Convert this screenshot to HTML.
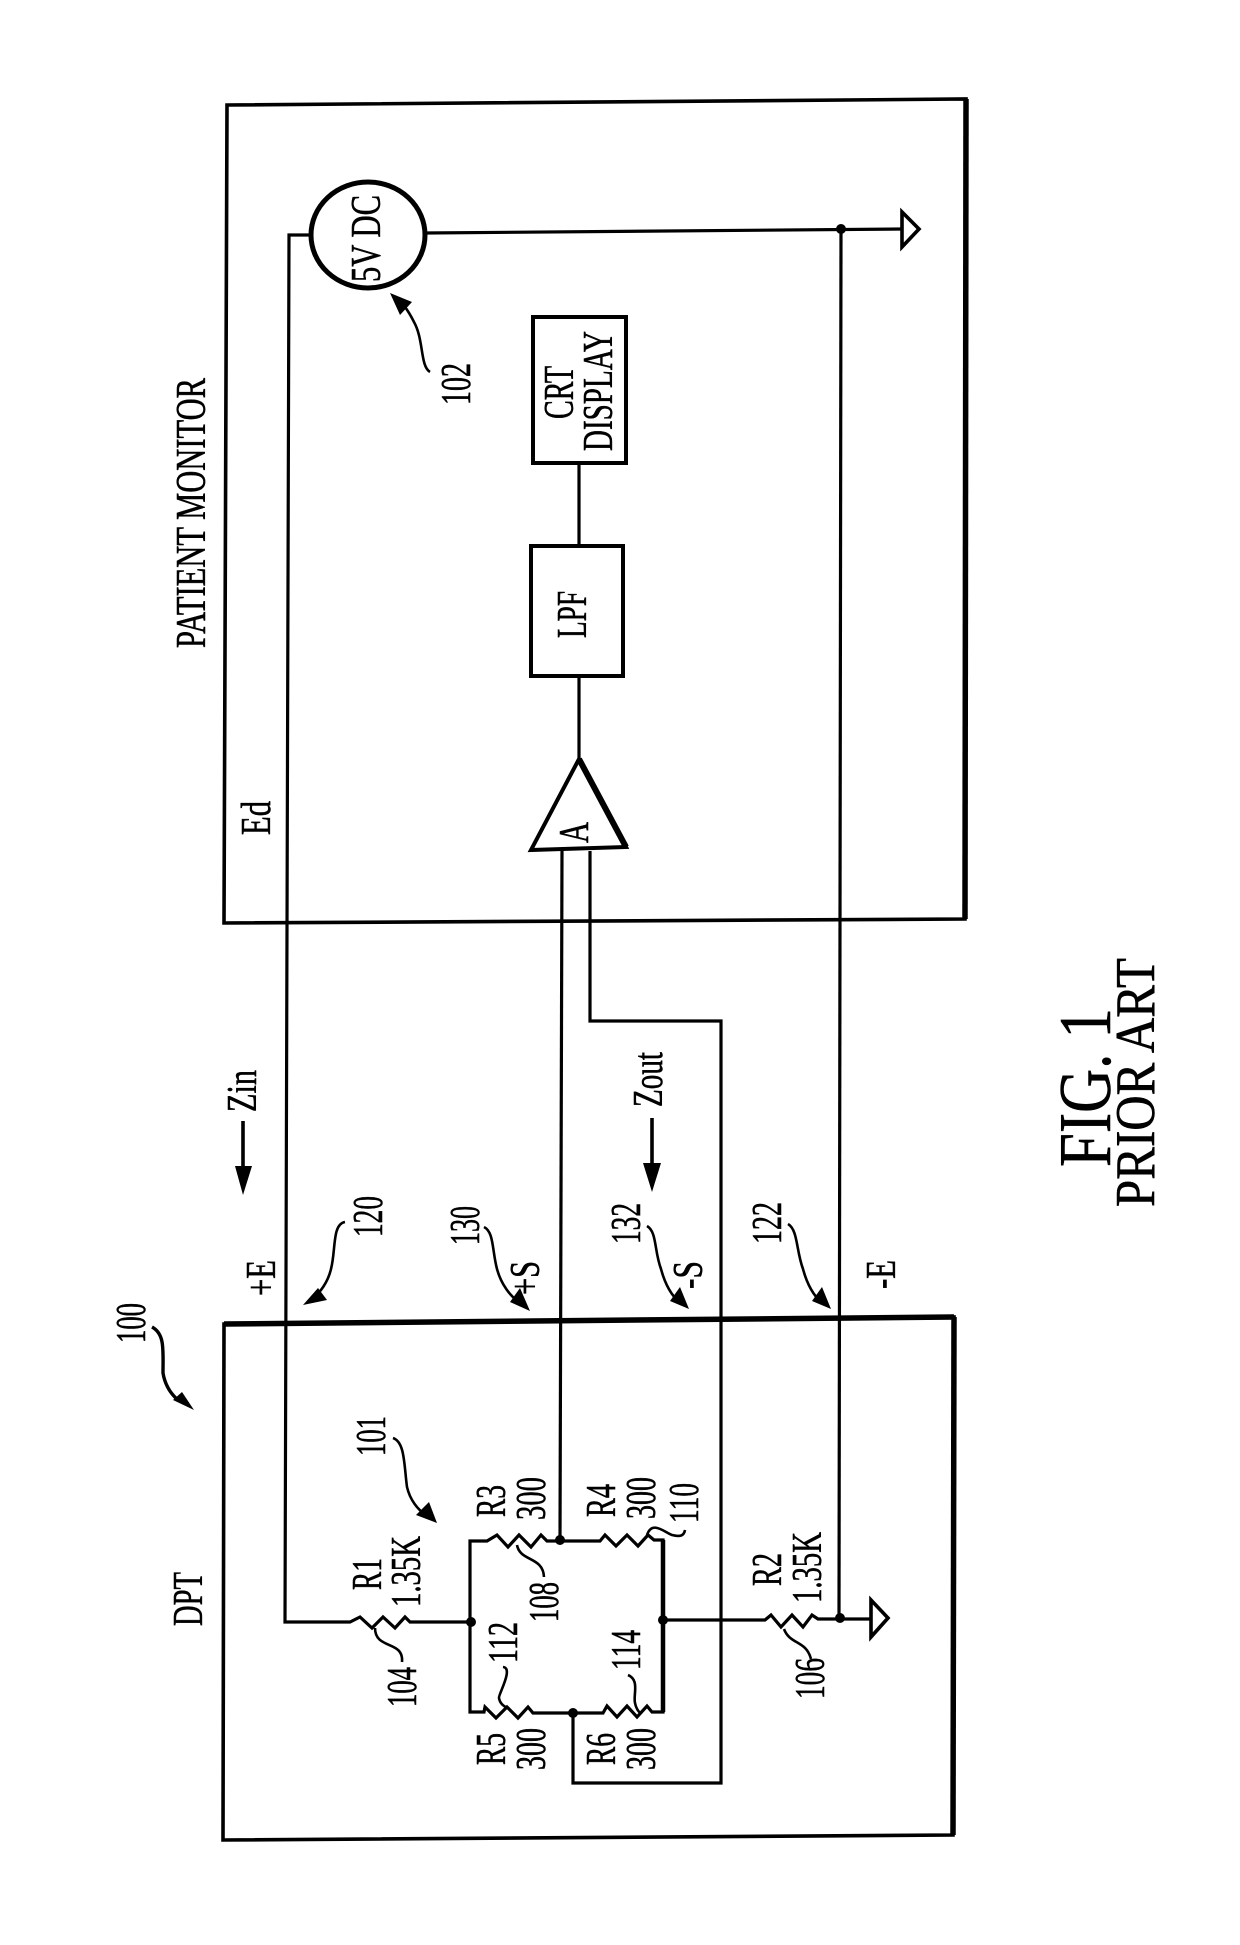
<!DOCTYPE html>
<html><head><meta charset="utf-8"><title>FIG. 1 PRIOR ART</title>
<style>
html,body{margin:0;padding:0;background:#fff}
svg{display:block}
text{font-family:"Liberation Serif",serif;font-size:42px;fill:#000;stroke:#000;stroke-width:.55px}
.w{fill:none;stroke:#000;stroke-width:3.2;stroke-linejoin:miter}
.b{fill:none;stroke:#000;stroke-width:3.6}
.l{fill:none;stroke:#000;stroke-width:2.6}
.t{fill:none;stroke:#000;stroke-width:3.6}
</style></head><body>
<svg width="1240" height="1945" viewBox="0 0 1240 1945" xmlns="http://www.w3.org/2000/svg">
<rect width="1240" height="1945" fill="#fff"/>

<!-- Patient monitor box -->
<path class="b" d="M227 105L966 99L965 919L224 923Z"/>
<path d="M966 99L965 919" stroke="#000" stroke-width="5.5" fill="none"/>
<!-- DPT box -->
<path class="b" d="M224 1324L954 1317L953 1835L223 1840Z"/>
<path d="M224 1324L954 1317" stroke="#000" stroke-width="5.5" fill="none"/>
<path d="M954 1317L953 1835" stroke="#000" stroke-width="5.5" fill="none"/>

<!-- source -->
<ellipse cx="368" cy="235" rx="57" ry="53" fill="#fff" stroke="#000" stroke-width="5"/>
<path class="w" d="M311 235H289L285 1622H350L360 1617L372 1628L383 1617L395 1628L405 1617L410 1622H471"/>
<path class="w" d="M425 233L902 229"/>
<path class="t" d="M902 212V247L919 229Z"/>
<path class="w" d="M841 229L839 1617"/>
<circle cx="841" cy="229" r="5"/>

<!-- amp, LPF, CRT -->
<path d="M579 759L531 850L626 847Z" fill="#fff" stroke="#000" stroke-width="4"/>
<path d="M579 759L626 847" fill="none" stroke="#000" stroke-width="6"/>
<rect x="531" y="546" width="92" height="130" fill="#fff" stroke="#000" stroke-width="4"/>
<rect x="533" y="317" width="93" height="146" fill="#fff" stroke="#000" stroke-width="4"/>
<path class="w" d="M579 759V676M579 546V463"/>

<!-- sense wires -->
<path class="w" d="M562 851L560 1540"/>
<path class="w" d="M590 851V1021H721V1783H573V1713"/>

<!-- bridge -->
<path class="w" d="M470 1622V1541H487L497 1535L508 1547L519 1535L531 1547L541 1535L547 1541H560H600L605 1535L616 1546L627 1535L638 1546L648 1535L654 1540H663V1620"/>
<path class="w" d="M470 1622V1712H484L485 1707L496 1718L507 1707L518 1718L528 1707L533 1713H573H603L607 1706L617 1717L627 1706L637 1717L647 1706L652 1712H663V1620"/>
<path d="M663 1540V1712" stroke="#000" stroke-width="4.5" fill="none"/>
<circle cx="471" cy="1622" r="5"/><circle cx="560" cy="1540" r="5"/><circle cx="663" cy="1620" r="5"/><circle cx="573" cy="1713" r="5"/>

<!-- R2 and ground -->
<path class="w" d="M663 1620H765L771 1615L781 1627L792 1615L803 1627L812 1615L818 1619H871"/>
<circle cx="840" cy="1618" r="5"/>
<path class="t" d="M871 1600V1637L888 1618Z"/>

<!-- leaders -->
<path class="l" d="M430 372C420 366 424 340 414 322C408 310 402 302 396 298"/>
<path class="l" d="M345 1222C332 1224 336 1250 331 1269C328 1282 320 1293 312 1299"/>
<path class="l" d="M484 1227C494 1232 492 1250 497 1269C501 1284 510 1296 520 1303"/>
<path class="l" d="M647 1226C657 1232 654 1250 661 1269C665 1284 672 1296 680 1303"/>
<path class="l" d="M788 1224C798 1230 796 1250 803 1269C807 1284 814 1296 822 1303"/>
<path class="l" d="M393 1438C405 1442 404 1465 407 1487C410 1500 418 1510 426 1515"/>
<path d="M152 1327C165 1334 163 1350 163 1373C165 1385 171 1394 178 1400" fill="none" stroke="#000" stroke-width="3.4"/>
<path class="l" d="M517 1545C520 1562 543 1556 544 1577"/>
<path class="l" d="M647 1535C652 1520 664 1532 672 1535C680 1537 684 1536 685 1530"/>
<path class="l" d="M503 1667C514 1668 498 1695 499 1698C500 1704 504 1706 507 1708"/>
<path class="l" d="M628 1675C640 1680 633 1695 635 1703C636 1708 638 1711 640 1713"/>
<path class="l" d="M402 1662C404 1640 375 1650 375 1628"/>
<path class="l" d="M784 1629C790 1645 806 1640 811 1659"/>
<path d="M390 293L412 302L400 315Z"/>
<path d="M303 1305L318 1288L327 1300Z"/>
<path d="M530 1311L510 1302L520 1288Z"/>
<path d="M689 1309L670 1301L680 1287Z"/>
<path d="M831 1309L812 1301L822 1287Z"/>
<path d="M437 1523L416 1515L429 1502Z"/>
<path d="M194 1410L173 1400L182 1392Z"/>

<!-- Zin / Zout arrows -->
<path d="M243 1121V1170" stroke="#000" stroke-width="3.6" fill="none"/>
<path d="M243 1195L235 1166H252Z"/>
<path d="M652 1118V1167" stroke="#000" stroke-width="3.6" fill="none"/>
<path d="M652 1192L643 1163H661Z"/>

<!-- labels -->
<g>
<text transform="translate(205,648) rotate(-90)" textLength="270" lengthAdjust="spacingAndGlyphs">PATIENT MONITOR</text>
<text transform="translate(270,835) rotate(-90)" textLength="34" lengthAdjust="spacingAndGlyphs">Ed</text>
<text transform="translate(380,282) rotate(-90)" textLength="87" lengthAdjust="spacingAndGlyphs">5V DC</text>
<text transform="translate(470,405) rotate(-90)" textLength="42" lengthAdjust="spacingAndGlyphs">102</text>
<text transform="translate(573,419) rotate(-90)" textLength="53" lengthAdjust="spacingAndGlyphs">CRT</text>
<text transform="translate(612,451) rotate(-90)" textLength="120" lengthAdjust="spacingAndGlyphs">DISPLAY</text>
<text transform="translate(586,638) rotate(-90)" textLength="47" lengthAdjust="spacingAndGlyphs">LPF</text>
<text transform="translate(588,843) rotate(-90)" textLength="21" lengthAdjust="spacingAndGlyphs">A</text>
<text transform="translate(256,1112) rotate(-90)" textLength="42" lengthAdjust="spacingAndGlyphs">Zin</text>
<text transform="translate(662,1107) rotate(-90)" textLength="55" lengthAdjust="spacingAndGlyphs">Zout</text>
<text transform="translate(382,1237) rotate(-90)" textLength="41" lengthAdjust="spacingAndGlyphs">120</text>
<text transform="translate(479,1245) rotate(-90)" textLength="39" lengthAdjust="spacingAndGlyphs">130</text>
<text transform="translate(640,1244) rotate(-90)" textLength="41" lengthAdjust="spacingAndGlyphs">132</text>
<text transform="translate(781,1244) rotate(-90)" textLength="42" lengthAdjust="spacingAndGlyphs">122</text>
<text transform="translate(275,1296) rotate(-90)" textLength="36" lengthAdjust="spacingAndGlyphs">+E</text>
<text transform="translate(539,1295) rotate(-90)" textLength="34" lengthAdjust="spacingAndGlyphs">+S</text>
<text transform="translate(702,1289) rotate(-90)" textLength="28" lengthAdjust="spacingAndGlyphs">-S</text>
<text transform="translate(895,1289) rotate(-90)" textLength="29" lengthAdjust="spacingAndGlyphs">-E</text>
<text transform="translate(145,1343) rotate(-90)" textLength="40" lengthAdjust="spacingAndGlyphs">100</text>
<text transform="translate(202,1626) rotate(-90)" textLength="54" lengthAdjust="spacingAndGlyphs">DPT</text>
<text transform="translate(385,1456) rotate(-90)" textLength="40" lengthAdjust="spacingAndGlyphs">101</text>
<text transform="translate(381,1590) rotate(-90)" textLength="32" lengthAdjust="spacingAndGlyphs">R1</text>
<text transform="translate(420,1607) rotate(-90)" textLength="71" lengthAdjust="spacingAndGlyphs">1.35K</text>
<text transform="translate(505,1517) rotate(-90)" textLength="32" lengthAdjust="spacingAndGlyphs">R3</text>
<text transform="translate(545,1520) rotate(-90)" textLength="43" lengthAdjust="spacingAndGlyphs">300</text>
<text transform="translate(615,1517) rotate(-90)" textLength="33" lengthAdjust="spacingAndGlyphs">R4</text>
<text transform="translate(655,1519) rotate(-90)" textLength="42" lengthAdjust="spacingAndGlyphs">300</text>
<text transform="translate(698,1523) rotate(-90)" textLength="40" lengthAdjust="spacingAndGlyphs">110</text>
<text transform="translate(558,1622) rotate(-90)" textLength="40" lengthAdjust="spacingAndGlyphs">108</text>
<text transform="translate(517,1663) rotate(-90)" textLength="41" lengthAdjust="spacingAndGlyphs">112</text>
<text transform="translate(640,1670) rotate(-90)" textLength="40" lengthAdjust="spacingAndGlyphs">114</text>
<text transform="translate(416,1707) rotate(-90)" textLength="40" lengthAdjust="spacingAndGlyphs">104</text>
<text transform="translate(824,1699) rotate(-90)" textLength="41" lengthAdjust="spacingAndGlyphs">106</text>
<text transform="translate(781,1586) rotate(-90)" textLength="33" lengthAdjust="spacingAndGlyphs">R2</text>
<text transform="translate(821,1603) rotate(-90)" textLength="71" lengthAdjust="spacingAndGlyphs">1.35K</text>
<text transform="translate(505,1765) rotate(-90)" textLength="32" lengthAdjust="spacingAndGlyphs">R5</text>
<text transform="translate(545,1770) rotate(-90)" textLength="42" lengthAdjust="spacingAndGlyphs">300</text>
<text transform="translate(615,1765) rotate(-90)" textLength="32" lengthAdjust="spacingAndGlyphs">R6</text>
<text transform="translate(655,1770) rotate(-90)" textLength="42" lengthAdjust="spacingAndGlyphs">300</text>
<text transform="translate(1110,1167) rotate(-90)" style="font-size:74px" textLength="159" lengthAdjust="spacingAndGlyphs">FIG. 1</text>
<text transform="translate(1154,1207) rotate(-90)" style="font-size:56px" textLength="249" lengthAdjust="spacingAndGlyphs">PRIOR ART</text>
</g>
</svg>
</body></html>
